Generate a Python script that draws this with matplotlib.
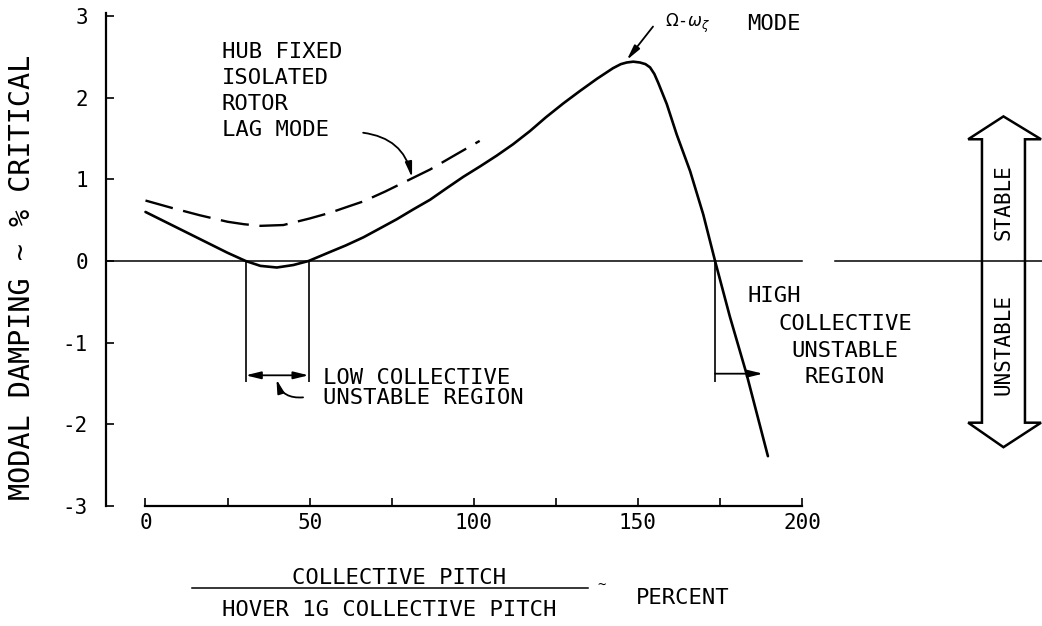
import matplotlib.pyplot as plt
from matplotlib.patches import Polygon

plt.rcParams['font.family'] = ['DejaVu Sans Mono']
plt.rcParams['mathtext.fontset'] = 'dejavusans'

# Coupled rotor/body lag mode damping vs collective pitch (% of hover 1g)
pitch_coupled = [0, 5, 10, 15, 20, 25, 30.5, 35, 40, 45, 49.7, 56.2, 61, 66.4, 71,
                 76.5, 81.5, 86.7, 91.7, 96.8, 102, 107, 112, 117.1, 122, 127.3,
                 132.3, 137.5, 142.4, 144.8, 146.6, 148.6, 150.6, 152.3, 153.7,
                 155, 156.2, 158.8, 161.8, 165.9, 169.9, 173.5, 178, 183, 189.6]
damp_coupled = [0.6, 0.5, 0.4, 0.3, 0.2, 0.1, 0.0, -0.06, -0.08, -0.05, 0.0, 0.11,
                0.19, 0.29, 0.39, 0.51, 0.63, 0.75, 0.89, 1.03, 1.16, 1.29, 1.43,
                1.59, 1.76, 1.93, 2.08, 2.23, 2.36, 2.41, 2.43, 2.44, 2.43, 2.41,
                2.37, 2.29, 2.18, 1.92, 1.55, 1.1, 0.57, 0.0, -0.68, -1.37, -2.39]

# Hub fixed isolated rotor lag mode
pitch_isolated = [0, 8, 16.5, 25, 30, 35, 42, 46, 50, 56.2, 62, 66.4, 73, 79.6,
                  86.7, 94, 101.8]
damp_isolated = [0.74, 0.65, 0.56, 0.48, 0.45, 0.43, 0.44, 0.48, 0.52, 0.59, 0.67,
                 0.73, 0.85, 0.98, 1.12, 1.29, 1.47]

low_region = [30.5, 49.7]
high_region = [173.5, 188.1]
peak = [146.6, 2.46]

x_ticks = [0, 50, 100, 150, 200]
x_minor = [25, 75, 125, 175]
y_ticks = [3, 2, 1, 0, -1, -2, -3]
y_ticklabels = ['3', '2', '1', '0', '-1', '-2', '-3']

fig = plt.figure(figsize=(10.42, 6.26), dpi=100)
ax = fig.add_axes([0.10173, 0.19169, 0.8983, 0.7959])
ax.set_xlim(-12.03, 273.1)
ax.set_ylim(-3, 3.1)

for side in ['top', 'right']:
    ax.spines[side].set_visible(False)
ax.spines['left'].set_bounds(-3, 3.04)
ax.spines['bottom'].set_bounds(0, 200)
ax.spines['left'].set_linewidth(1.6)
ax.spines['bottom'].set_linewidth(1.6)

ax.set_xticks(x_ticks)
ax.set_xticklabels([str(t) for t in x_ticks])
ax.set_xticks(x_minor, minor=True)
ax.set_yticks(y_ticks)
ax.set_yticklabels(y_ticklabels)
ax.tick_params(axis='x', which='both', direction='in', length=6, width=1.2,
               labelsize=15, pad=5)
ax.tick_params(axis='y', direction='in', length=6, width=1.2, labelsize=15, pad=13)

# zero damping line, broken before the stability arrow
ax.plot([-12.03, 200], [0, 0], color='black', lw=1.1, clip_on=False)
ax.plot([210, 273.1], [0, 0], color='black', lw=1.1, clip_on=False)

ax.plot(pitch_coupled, damp_coupled, color='black', lw=1.9, solid_capstyle='round',
        solid_joinstyle='round')
ax.plot(pitch_isolated, damp_isolated, color='black', lw=1.7, linestyle=(0, (12, 4.5)))

# unstable region brackets
ax.vlines(low_region + [high_region[0]], -1.48, 0, color='black', lw=1.2)
ax.annotate('', xy=(low_region[0], -1.4), xytext=(low_region[1], -1.4),
            arrowprops=dict(arrowstyle='<|-|>,head_length=0.9,head_width=0.22',
                            color='black', lw=1.3, shrinkA=0, shrinkB=0))
ax.annotate('', xy=(high_region[1], -1.38), xytext=(high_region[0], -1.38),
            arrowprops=dict(arrowstyle='-|>,head_length=0.9,head_width=0.22',
                            color='black', lw=1.3, shrinkA=0, shrinkB=0))

txt = dict(fontsize=16, color='black')
for i, line in enumerate(['HUB FIXED', 'ISOLATED', 'ROTOR', 'LAG MODE']):
    ax.text(23.3, 2.49 - 0.32 * i, line, va='baseline', **txt)
ax.annotate('', xy=(81.2, 1.02), xytext=(66.3, 1.57),
            arrowprops=dict(arrowstyle='-|>,head_length=0.9,head_width=0.2',
                            color='black', lw=1.3, shrinkA=0, shrinkB=0,
                            connectionstyle='arc3,rad=-0.35'))

ax.text(54.2, -1.51, 'LOW COLLECTIVE', va='baseline', **txt)
ax.text(54.2, -1.75, 'UNSTABLE REGION', va='baseline', **txt)
ax.annotate('', xy=(39.9, -1.45), xytext=(48, -1.67),
            arrowprops=dict(arrowstyle='-|>,head_length=0.8,head_width=0.2',
                            color='black', lw=1.3, shrinkA=0, shrinkB=0,
                            connectionstyle='arc3,rad=-0.4'))

ax.text(183.5, -0.50, 'HIGH', va='baseline', **txt)
for i, line in enumerate(['COLLECTIVE', 'UNSTABLE', 'REGION']):
    ax.text(213.1, -0.84 - 0.33 * i, line, ha='center', va='baseline', **txt)

ax.text(158.3, 2.87, r'$\Omega$-$\omega_\zeta$', va='baseline', fontsize=12)
ax.text(183.2, 2.83, 'MODE', va='baseline', **txt)
ax.annotate('', xy=peak, xytext=(154.6, 2.87),
            arrowprops=dict(arrowstyle='-|>,head_length=0.9,head_width=0.2',
                            color='black', lw=1.3, shrinkA=0, shrinkB=0))

# stable / unstable double block arrow
cx, sl, sr, hl, hr = 261.35, 254.8, 267.9, 250.6, 272.8
top_tip, top_base, bot_base, bot_tip = 1.77, 1.49, -1.98, -2.28
arrow = Polygon([(cx, top_tip), (hr, top_base), (sr, top_base), (sr, bot_base),
                 (hr, bot_base), (cx, bot_tip), (hl, bot_base), (sl, bot_base),
                 (sl, top_base), (hl, top_base)],
                closed=True, fill=False, edgecolor='black', lw=1.8, clip_on=False)
ax.add_patch(arrow)
ax.text(cx, 0.72, 'STABLE', rotation=90, ha='center', va='center', fontsize=15)
ax.text(cx, -1.02, 'UNSTABLE', rotation=90, ha='center', va='center', fontsize=15)

# axis titles
fig.text(22 / 1042, 1 - 277 / 626, 'MODAL DAMPING ~ % CRITICAL', rotation=90,
         ha='center', va='center', fontsize=20.5)
ax.text(77.1, -3.95, 'COLLECTIVE PITCH', ha='center', va='baseline', fontsize=16)
ax.plot([14.2, 134.8], [-4.0, -4.0], color='black', lw=1.1, clip_on=False)
ax.text(74.2, -4.35, 'HOVER 1G COLLECTIVE PITCH', ha='center', va='baseline', fontsize=16)
ax.text(138.8, -3.98, '~', ha='center', va='center', fontsize=10)
ax.text(149.4, -4.205, 'PERCENT', va='baseline', fontsize=16)

fig.savefig('out.png', dpi=100)
